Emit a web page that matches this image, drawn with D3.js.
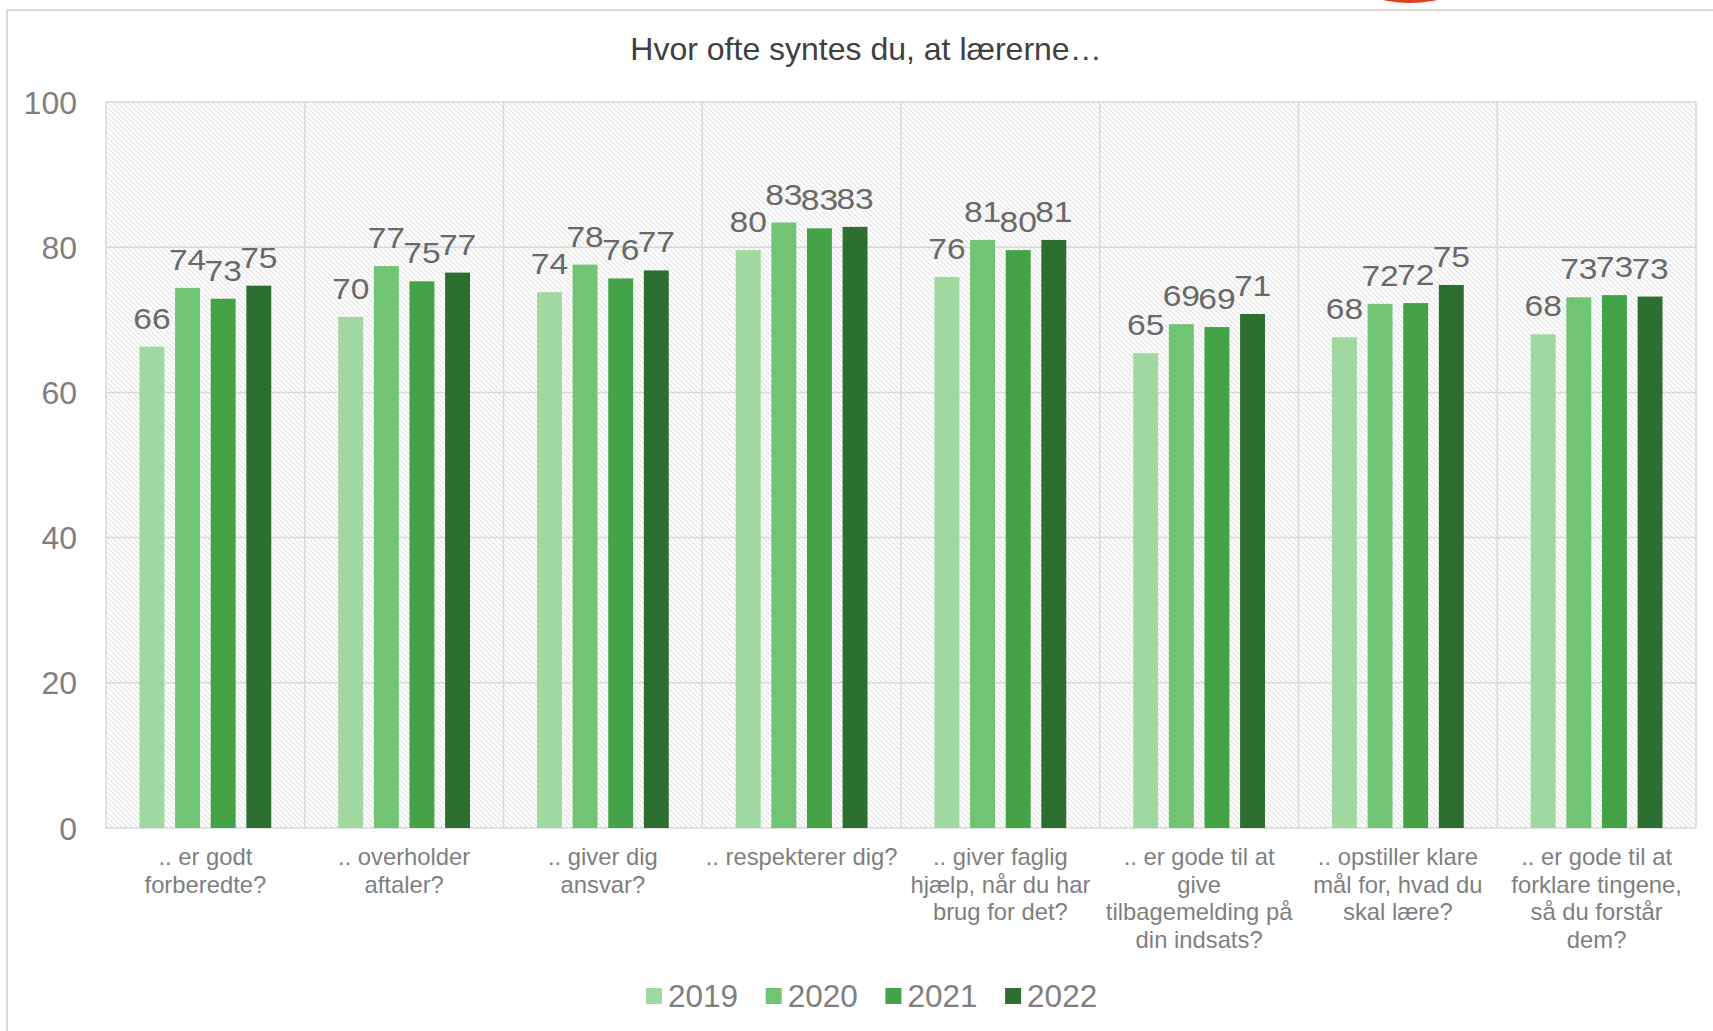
<!DOCTYPE html>
<html>
<head>
<meta charset="utf-8">
<script src="https://cdn.jsdelivr.net/npm/d3@7"></script>
<style>
  html, body { margin: 0; padding: 0; background: #fff; }
  svg { display: block; font-family: "Liberation Sans", Arial, sans-serif; }
  .grid line { stroke: #d9d9d9; stroke-width: 1.5; }
  .tick-label { fill: #7f7f7f; font-size: 32px; }
  .cat-label { fill: #7f7f7f; font-size: 23.8px; }
  .value-label { fill: #696969; font-size: 30px; }
  .legend text { fill: #7f7f7f; font-size: 31.5px; }
</style>
</head>
<body>
<svg></svg>
<script>
var title = "Hvor ofte syntes du, at lærerne…";

var categories = [
  ".. er godt\nforberedte?",
  ".. overholder\naftaler?",
  ".. giver dig\nansvar?",
  ".. respekterer dig?",
  ".. giver faglig\nhjælp, når du har\nbrug for det?",
  ".. er gode til at\ngive\ntilbagemelding på\ndin indsats?",
  ".. opstiller klare\nmål for, hvad du\nskal lære?",
  ".. er gode til at\nforklare tingene,\nså du forstår\ndem?"
];

var years = ["2019", "2020", "2021", "2022"];

var values2019 = [66.3, 70.4, 73.8, 79.6, 75.9, 65.4, 67.6, 68.0];
var values2020 = [74.4, 77.4, 77.6, 83.4, 81.0, 69.4, 72.2, 73.1];
var values2021 = [72.9, 75.3, 75.7, 82.6, 79.6, 69.0, 72.3, 73.4];
var values2022 = [74.7, 76.5, 76.8, 82.8, 81.0, 70.8, 74.8, 73.2];

var yTicks = [0, 20, 40, 60, 80, 100];

var colors = ["#a0d8a0", "#70c474", "#44a247", "#2d6f30"];

var series = [values2019, values2020, values2021, values2022];

var width = 1713,
    height = 1031;

var plot = { left: 106, right: 1696, top: 102, bottom: 828 };

var svg = d3.select("svg")
  .attr("width", width)
  .attr("height", height);

// hatched plot background
var defs = svg.append("defs");
var hatch = defs.append("pattern")
    .attr("id", "hatch")
    .attr("patternUnits", "userSpaceOnUse")
    .attr("width", 5)
    .attr("height", 5);
hatch.append("rect")
    .attr("width", 5).attr("height", 5)
    .attr("fill", "#fff");
hatch.append("path")
    .attr("d", "M-1,-1 L6,6 M-1,4 L1,6 M4,-1 L6,1")
    .attr("stroke", "#e2e2e2")
    .attr("stroke-width", 1.1);

// chart frame bits
svg.append("line")
    .attr("x1", 7).attr("x2", 7)
    .attr("y1", 10).attr("y2", height)
    .attr("stroke", "#d9d9d9").attr("stroke-width", 2);
svg.append("line")
    .attr("x1", 6).attr("x2", width)
    .attr("y1", 10).attr("y2", 10)
    .attr("stroke", "#d9d9d9").attr("stroke-width", 2);
svg.append("ellipse")
    .attr("cx", 1410).attr("cy", -22)
    .attr("rx", 58).attr("ry", 25)
    .attr("fill", "#e0401f");

var x0 = d3.scaleBand()
  .domain(categories)
  .range([plot.left, plot.right])
  .padding(0);

var x1 = d3.scaleBand()
  .domain(years)
  .range([0, x0.bandwidth()])
  .paddingInner(0.3)
  .paddingOuter(0.94);

var y = d3.scaleLinear()
  .domain([0, 100])
  .range([plot.bottom, plot.top]);

svg.append("rect")
    .attr("x", plot.left)
    .attr("y", plot.top)
    .attr("width", plot.right - plot.left)
    .attr("height", plot.bottom - plot.top)
    .attr("fill", "url(#hatch)");

var grid = svg.append("g").attr("class", "grid");

grid.selectAll("line.h")
  .data(yTicks)
  .enter().append("line")
    .attr("class", "h")
    .attr("x1", plot.left)
    .attr("x2", plot.right)
    .attr("y1", function(d) { return y(d); })
    .attr("y2", function(d) { return y(d); });

grid.selectAll("line.v")
  .data(categories.concat(["end"]))
  .enter().append("line")
    .attr("class", "v")
    .attr("x1", function(d, i) { return i < categories.length ? x0(d) : plot.right; })
    .attr("x2", function(d, i) { return i < categories.length ? x0(d) : plot.right; })
    .attr("y1", plot.top)
    .attr("y2", plot.bottom);

svg.append("g")
  .selectAll("text")
  .data(yTicks)
  .enter().append("text")
    .attr("class", "tick-label")
    .attr("x", 77)
    .attr("y", function(d) { return y(d); })
    .attr("dy", "0.36em")
    .attr("text-anchor", "end")
    .text(function(d) { return d; });

// bars
var groups = svg.append("g")
    .attr("class", "bars")
  .selectAll("g")
  .data(categories)
  .enter().append("g")
    .attr("transform", function(d) { return "translate(" + x0(d) + ",0)"; });

var barData = function(d, i) {
  return years.map(function(yr, j) {
    return { year: yr, value: series[j][i], color: colors[j] };
  });
};

groups.selectAll("rect")
  .data(barData)
  .enter().append("rect")
    .attr("x", function(d) { return x1(d.year); })
    .attr("width", x1.bandwidth())
    .attr("y", function(d) { return y(d.value); })
    .attr("height", function(d) { return y(0) - y(d.value); })
    .attr("fill", function(d) { return d.color; });

// labels are a bit wide in the original, so stretch them sideways
groups.selectAll("text")
  .data(barData)
  .enter().append("text")
    .attr("class", "value-label")
    .attr("text-anchor", "middle")
    .attr("transform", function(d) {
      var cx = x1(d.year) + x1.bandwidth() / 2;
      return "translate(" + cx + "," + (y(d.value) - 18) + ") scale(1.12,1)";
    })
    .text(function(d) { return d3.format(".0f")(d.value); });

// category labels
var catLabels = svg.append("g")
  .selectAll("text")
  .data(categories)
  .enter().append("text")
    .attr("class", "cat-label")
    .attr("text-anchor", "middle")
    .attr("x", function(d) { return x0(d) + x0.bandwidth() / 2; })
    .attr("y", 865);

catLabels.selectAll("tspan")
  .data(function(d) { return d.split("\n"); })
  .enter().append("tspan")
    .attr("x", function() { return d3.select(this.parentNode).attr("x"); })
    .attr("dy", function(d, i) { return i === 0 ? 0 : 27.5; })
    .text(function(d) { return d; });

// title
svg.append("text")
    .attr("x", 866)
    .attr("y", 60)
    .attr("text-anchor", "middle")
    .attr("fill", "#404040")
    .style("font-size", "32px")
    .text(title);

// legend
var legend = svg.append("g")
    .attr("class", "legend")
  .selectAll("g")
  .data(years)
  .enter().append("g")
    .attr("transform", function(d, i) { return "translate(" + (646 + i * 119.7) + ",988)"; });

legend.append("rect")
    .attr("width", 16)
    .attr("height", 16)
    .attr("fill", function(d, i) { return colors[i]; });

legend.append("text")
    .attr("x", 22)
    .attr("y", 19)
    .text(function(d) { return d; });
</script>
</body>
</html>
